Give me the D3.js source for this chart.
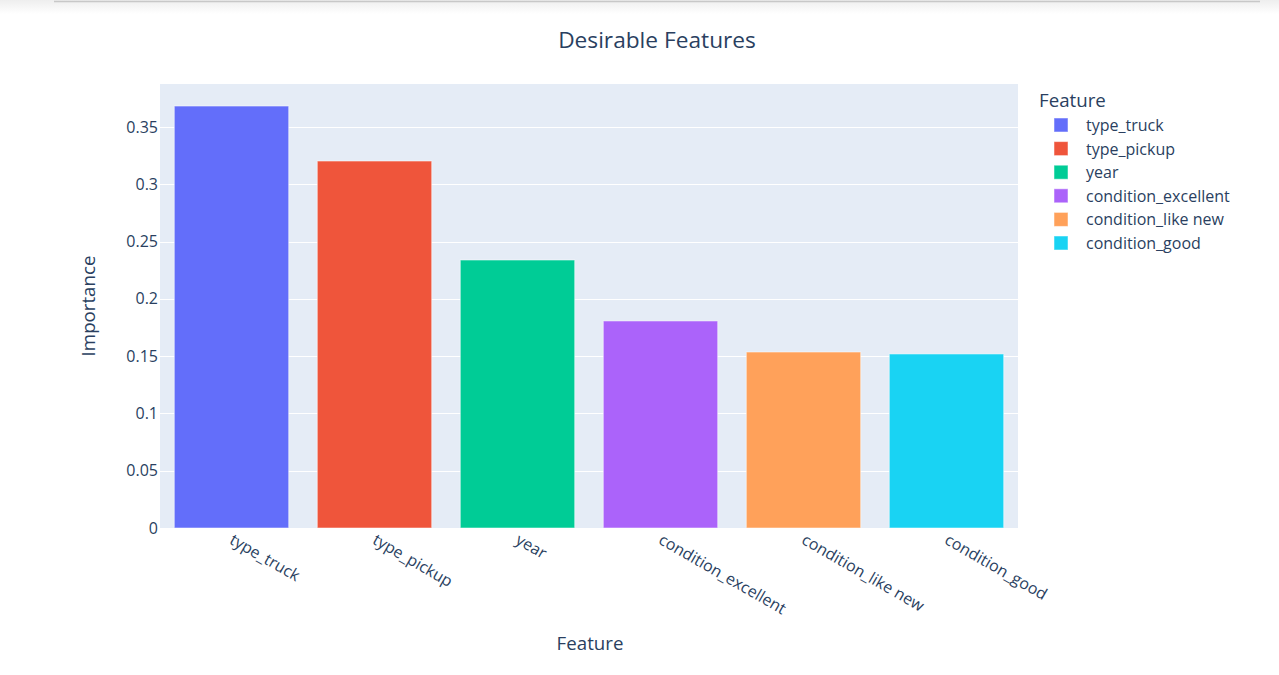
<!DOCTYPE html>
<html><head><meta charset="utf-8">
<script src="https://cdn.jsdelivr.net/npm/d3@7"></script>
<style>body{margin:0;background:#fff;}svg{display:block;font-family:"Open Sans",Verdana,Arial,sans-serif;}</style>
</head><body>
<svg id="c" width="1279" height="675"></svg>
<script>
const categories = ["type_truck","type_pickup","year","condition_excellent","condition_like new","condition_good"];
const values = [0.3683, 0.3203, 0.2339, 0.1807, 0.1536, 0.1519];
const colors = ["#636efa","#EF553B","#00cc96","#ab63fa","#FFA15A","#19d3f3"];
const yTicks = [0,0.05,0.1,0.15,0.2,0.25,0.3,0.35];
const yTickLabels = ["0","0.05","0.1","0.15","0.2","0.25","0.3","0.35"];

const svg = d3.select("#c");
const tc = "#2a3f5f";
const ff = "'Open Sans',Verdana,Arial,sans-serif";
const defs = svg.append("defs");
const g0 = defs.append("linearGradient").attr("id","sh").attr("x1",0).attr("y1",0).attr("x2",0).attr("y2",1);
g0.append("stop").attr("offset",0).attr("stop-color","#eeeeee");
g0.append("stop").attr("offset",1).attr("stop-color","#ffffff");
svg.append("rect").attr("x",0).attr("y",0).attr("width",1279).attr("height",14).attr("fill","url(#sh)");
svg.append("line").attr("x1",54).attr("x2",1260).attr("y1",1.5).attr("y2",1.5).attr("stroke","#c8c8c8").attr("stroke-width",1.5);

const L=160,R=1018,T=84,B=528;
const x = d3.scaleBand().domain(categories).range([L,R]).paddingInner(0.2).paddingOuter(0.1);
const y = d3.scaleLinear().domain([0, 0.35/((B-127)/(B-T))]).range([B,T]);

svg.append("rect").attr("x",L).attr("y",T).attr("width",R-L).attr("height",B-T).attr("fill","#E5ECF6");
svg.append("g").selectAll("line").data(yTicks.slice(1)).join("line")
  .attr("x1",L).attr("x2",R).attr("y1",d=>Math.round(y(d))+0.5).attr("y2",d=>Math.round(y(d))+0.5)
  .attr("stroke","#fff").attr("stroke-width",1);

const ya = svg.append("g").attr("transform",`translate(${L},0)`)
  .call(d3.axisLeft(y).tickValues(yTicks).tickFormat((d,i)=>yTickLabels[i]).tickSize(0).tickPadding(2));
ya.select(".domain").remove();
ya.selectAll("text").attr("fill",tc).attr("font-size",16).attr("font-family",ff);

svg.append("g").selectAll("rect").data(categories).join("rect")
  .attr("x",d=>x(d)).attr("width",x.bandwidth())
  .attr("y",(d,i)=>y(values[i])).attr("height",(d,i)=>B-y(values[i]))
  .attr("fill",(d,i)=>colors[i]).attr("stroke","rgba(255,255,255,0.5)").attr("stroke-width",1);

const xa = svg.append("g").attr("transform",`translate(0,${B})`)
  .call(d3.axisBottom(x).tickSize(0).tickPadding(0));
xa.select(".domain").remove();
xa.selectAll("text").attr("fill",tc).attr("font-size",16).attr("font-family",ff)
  .attr("text-anchor","start").attr("dy",0).attr("y",0)
  .attr("transform","translate(-3,15) rotate(30)");

svg.append("text").attr("x",657).attr("y",48).attr("text-anchor","middle").attr("font-size",22.7).attr("fill",tc).text("Desirable Features");
svg.append("text").attr("x",590).attr("y",650).attr("text-anchor","middle").attr("font-size",18.7).attr("fill",tc).text("Feature");
svg.append("text").attr("transform","translate(95,306) rotate(-90)").attr("text-anchor","middle").attr("font-size",18.7).attr("fill",tc).text("Importance");

const lg = svg.append("g");
lg.append("text").attr("x",1039).attr("y",107).attr("font-size",18.7).attr("fill",tc).text("Feature");
const it = lg.selectAll("g.it").data(categories).join("g").attr("class","it")
  .attr("transform",(d,i)=>`translate(0,${125+i*23.6})`);
it.append("rect").attr("x",1054).attr("y",-7).attr("width",14).attr("height",14)
  .attr("fill",(d,i)=>colors[i]).attr("stroke","rgba(255,255,255,0.5)");
it.append("text").attr("x",1086).attr("y",6).attr("font-size",16).attr("fill",tc).text(d=>d);
</script>
</body></html>
